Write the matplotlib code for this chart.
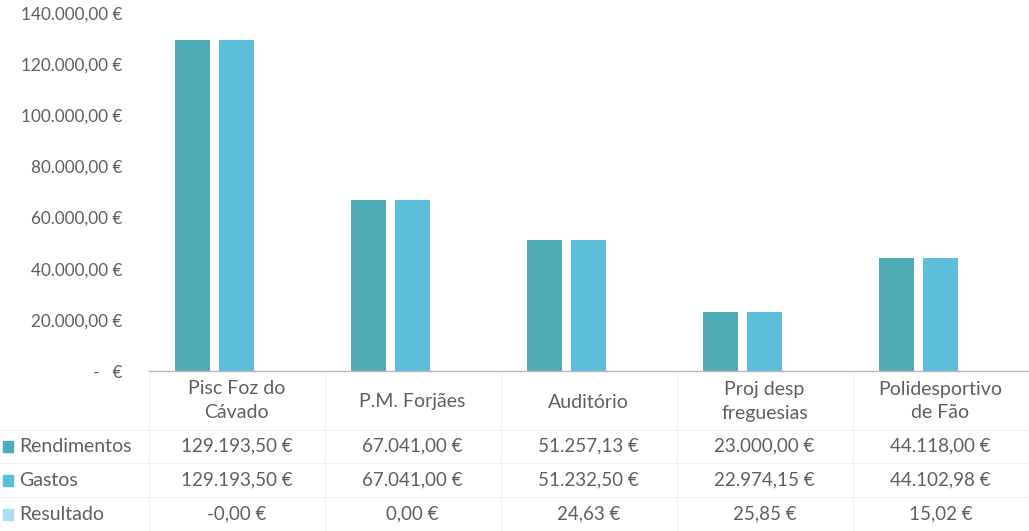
import matplotlib
matplotlib.use("Agg")
import matplotlib.pyplot as plt
from matplotlib.patches import Rectangle
from matplotlib.lines import Line2D

categories = ["Pisc Foz do\nCávado", "P.M. Forjães", "Auditório", "Proj desp\nfreguesias", "Polidesportivo\nde Fão"]
series_names = ["Rendimentos", "Gastos", "Resultado"]
rendimentos = [129193.50, 67041.00, 51257.13, 23000.00, 44118.00]
gastos = [129193.50, 67041.00, 51232.50, 22974.15, 44102.98]
resultado = [-0.0, 0.0, 24.63, 25.85, 15.02]
yticks = [0, 20000, 40000, 60000, 80000, 100000, 120000, 140000]

colors = ["#4fabb8", "#5bbfd9", "#a9e0ee"]
text_color = "#5f5f5f"
grid_color = "#f0f0f0"
plt.rcParams['font.family'] = ['Lato', 'DejaVu Sans']

W, H = 1029, 531


def eur(v):
    s = f"{v:,.2f}".replace(",", "X").replace(".", ",").replace("X", ".")
    return s + " €"


def fy(py):
    return 1 - py / H


fig = plt.figure(figsize=(W / 100, H / 100), dpi=100)
ax = fig.add_axes([148.5 / W, fy(371.2), 880 / W, (371.2 - 12.8) / H])

data = [rendimentos, gastos, resultado]
offsets = [-0.25, 0.0, 0.25]
for vals, off, c in zip(data, offsets, colors):
    ax.bar([i + off for i in range(len(categories))], vals, width=0.2, color=c)

ax.set_xlim(-0.5, len(categories) - 0.5)
ax.set_ylim(0, 140000)
ax.set_yticks(yticks)
ax.set_yticklabels(["-   €" if t == 0 else eur(t) for t in yticks])
ax.tick_params(axis='y', length=0, pad=19, labelsize=12.3, labelcolor=text_color)
ax.set_xticks([])
for s in ["top", "right", "left"]:
    ax.spines[s].set_visible(False)
ax.spines["bottom"].set_color("#b8b8b8")
ax.spines["bottom"].set_linewidth(1.0)
ax.spines["bottom"].set_linestyle((0, (2, 1)))

# data table under the axis
x_left = 148.5
cat_w = 176
row_centers = [446, 480, 514]

# faint grid lines
for py in [430, 463, 497]:
    fig.add_artist(Line2D([0, 1], [fy(py), fy(py)], color=grid_color, lw=0.8))
for i in range(len(categories) + 1):
    px = x_left + i * cat_w
    fig.add_artist(Line2D([px / W, px / W], [fy(374), fy(531)], color=grid_color, lw=0.8))

for i, cat in enumerate(categories):
    cx = (x_left + (i + 0.5) * cat_w) / W
    lines = cat.split("\n")
    if len(lines) == 2:
        fig.text(cx, fy(389), lines[0], ha='center', va='center', fontsize=14, color=text_color)
        fig.text(cx, fy(413), lines[1], ha='center', va='center', fontsize=14, color=text_color)
    else:
        fig.text(cx, fy(402), lines[0], ha='center', va='center', fontsize=14, color=text_color)
    for r, vals in enumerate(data):
        fig.text(cx, fy(row_centers[r]), eur(vals[i]), ha='center', va='center',
                 fontsize=13.5, color=text_color)

for r, name in enumerate(series_names):
    py = row_centers[r]
    fig.add_artist(Rectangle((3 / W, fy(py + 5.5)), 10 / W, 11 / H, color=colors[r],
                             transform=fig.transFigure))
    fig.text(19 / W, fy(py), name, ha='left', va='center', fontsize=14, color=text_color)

fig.savefig("out.png", dpi=100, facecolor="white")
